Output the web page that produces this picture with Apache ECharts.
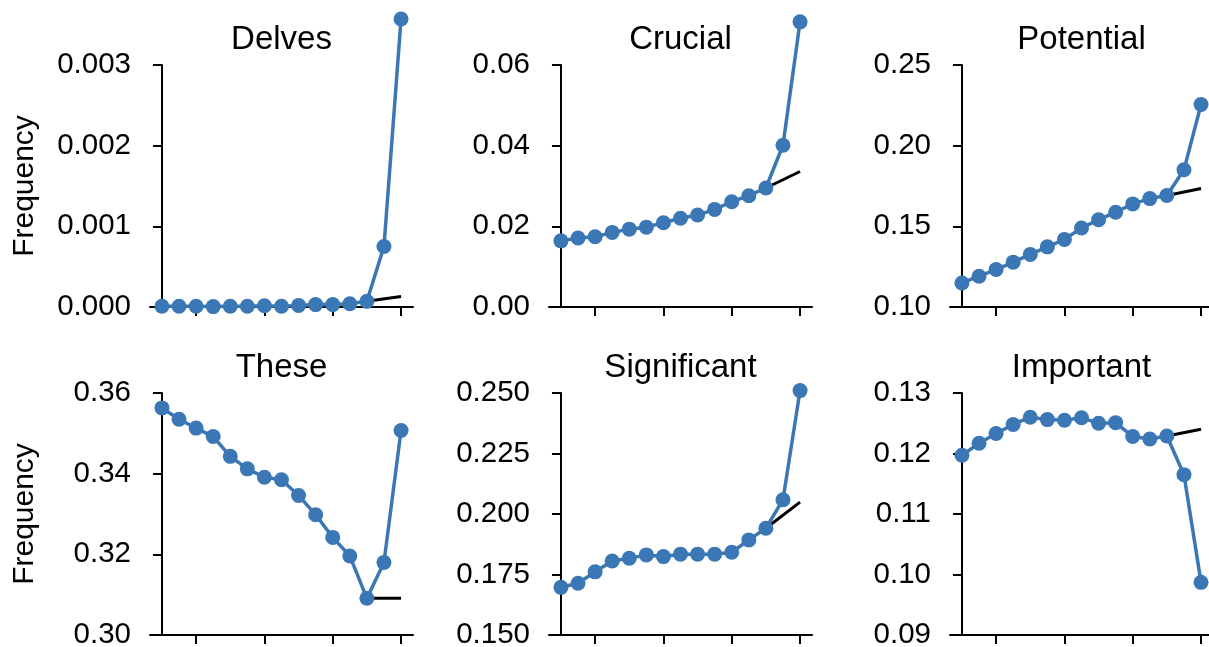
<!DOCTYPE html>
<html>
<head>
<meta charset="utf-8">
<script src="https://cdn.jsdelivr.net/npm/echarts@6/dist/echarts.min.js"></script>
<style>
html,body{margin:0;padding:0;background:#fff;}
#chart{width:1209px;height:647px;}
</style>
</head>
<body>
<div id="chart"></div>
<script>
// ---- data ----
var steps = [0, 1, 2, 3, 4, 5, 6, 7, 8, 9, 10, 11, 12, 13, 14];
var xTicks = [2, 6, 10, 14];
var trendSteps = [12, 14];

var words = ['Delves', 'Crucial', 'Potential', 'These', 'Significant', 'Important'];

var delves = [0.00001, 0.00001, 0.00001, 0.000005, 0.00001, 0.00001, 0.000015, 0.00001, 0.00002, 0.00003, 0.00003, 0.00004, 0.00007, 0.00075, 0.00357];
var delvesTrend = [0.00007, 0.00013];
var delvesTicks = ['0.000', '0.001', '0.002', '0.003'];

var crucial = [0.0164, 0.0171, 0.0174, 0.0185, 0.0193, 0.0198, 0.0209, 0.0220, 0.0228, 0.0242, 0.0261, 0.0276, 0.0295, 0.0401, 0.0707];
var crucialTrend = [0.0295, 0.0336];
var crucialTicks = ['0.00', '0.02', '0.04', '0.06'];

var potential = [0.1149, 0.1191, 0.1232, 0.1278, 0.1326, 0.1373, 0.1419, 0.1490, 0.1541, 0.1587, 0.1639, 0.1672, 0.1691, 0.1851, 0.2255];
var potentialTrend = [0.1691, 0.1734];
var potentialTicks = ['0.10', '0.15', '0.20', '0.25'];

var these = [0.3563, 0.3535, 0.3513, 0.3492, 0.3443, 0.3412, 0.3391, 0.3385, 0.3346, 0.3298, 0.3242, 0.3196, 0.3091, 0.3180, 0.3507];
var theseTrend = [0.3091, 0.3091];
var theseTicks = ['0.30', '0.32', '0.34', '0.36'];

var significant = [0.1697, 0.1714, 0.1761, 0.1806, 0.1817, 0.1831, 0.1824, 0.1834, 0.1834, 0.1834, 0.1842, 0.1893, 0.1941, 0.2059, 0.2510];
var significantTrend = [0.1941, 0.2049];
var significantTicks = ['0.150', '0.175', '0.200', '0.225', '0.250'];

var important = [0.1197, 0.1217, 0.1233, 0.1248, 0.1260, 0.1256, 0.1255, 0.1259, 0.1250, 0.1251, 0.1228, 0.1224, 0.1229, 0.1165, 0.0987];
var importantTrend = [0.1229, 0.1240];
var importantTicks = ['0.09', '0.10', '0.11', '0.12', '0.13'];

var panelValues = [delves, crucial, potential, these, significant, important];
var panelTrends = [delvesTrend, crucialTrend, potentialTrend, theseTrend, significantTrend, importantTrend];
var panelTicks = [delvesTicks, crucialTicks, potentialTicks, theseTicks, significantTicks, importantTicks];

// ---- layout / style ----
var FONT = 'Liberation Sans, Arial, Helvetica, sans-serif';
var BLUE = '#3a77b4';
var gridLeft = [150, 549, 950];
var gridTop = [65, 393];
var gridW = 263, gridH = 242;

var grids = [], xAxes = [], yAxes = [], series = [], titles = [];

for (var p = 0; p < 6; p++) {
  var col = p % 3, row = Math.floor(p / 3);
  var ticks = panelTicks[p];
  var yMin = parseFloat(ticks[0]);
  var yMax = parseFloat(ticks[ticks.length - 1]);
  var yStep = parseFloat(ticks[1]) - parseFloat(ticks[0]);
  var dec = ticks[0].split('.')[1].length;

  grids.push({left: gridLeft[col], top: gridTop[row], width: gridW, height: gridH,
    containLabel: false, outerBoundsMode: 'none'});

  xAxes.push({
    type: 'value', gridIndex: p, min: -0.7, max: 14.7,
    axisLine: {show: true, lineStyle: {color: '#000', width: 2}},
    axisTick: {show: true, customValues: xTicks, length: 9, lineStyle: {color: '#000', width: 2}},
    axisLabel: {show: false},
    splitLine: {show: false}
  });

  (function (d) {
    yAxes.push({
      type: 'value', gridIndex: p, min: yMin, max: yMax, interval: yStep,
      name: col === 0 ? 'Frequency' : '',
      nameLocation: 'middle', nameGap: 110, nameRotate: 90,
      nameTextStyle: {fontFamily: FONT, fontSize: 30, color: '#000'},
      axisLine: {show: true, lineStyle: {color: '#000', width: 2}},
      axisTick: {show: true, length: 9, lineStyle: {color: '#000', width: 2}},
      axisLabel: {show: true, margin: 19, fontFamily: FONT, fontSize: 29.5, color: '#000',
        formatter: function (v) { return v.toFixed(d); }},
      splitLine: {show: false}
    });
  })(dec);

  var trendData = trendSteps.map(function (s, i) { return [s, panelTrends[p][i]]; });
  var mainData = steps.map(function (s, i) { return [s, panelValues[p][i]]; });

  series.push({
    type: 'line', xAxisIndex: p, yAxisIndex: p, data: trendData,
    showSymbol: false, symbol: 'none', clip: false, z: 1,
    lineStyle: {color: '#000', width: 3}, silent: true
  });
  series.push({
    type: 'line', xAxisIndex: p, yAxisIndex: p, data: mainData,
    symbol: 'circle', symbolSize: 15, showSymbol: true, clip: false, z: 2,
    itemStyle: {color: BLUE}, lineStyle: {color: BLUE, width: 3.5}, silent: true
  });

  titles.push({
    text: words[p], left: gridLeft[col] + gridW / 2, top: gridTop[row] - 42,
    textAlign: 'center', padding: 0,
    textStyle: {fontFamily: FONT, fontSize: 33, fontWeight: 'normal', color: '#000', lineHeight: 33}
  });
}

var chart = echarts.init(document.getElementById('chart'), null, {renderer: 'canvas'});
chart.setOption({
  animation: false,
  backgroundColor: '#fff',
  title: titles,
  grid: grids,
  xAxis: xAxes,
  yAxis: yAxes,
  series: series
});
</script>
</body>
</html>
